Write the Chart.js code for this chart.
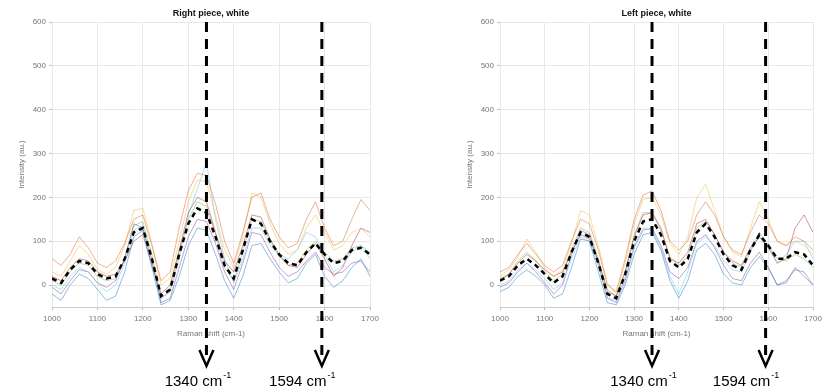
<!DOCTYPE html>
<html lang="en">
<head>
    <meta charset="UTF-8">
    <title>Raman spectra, white pieces</title>
    <script src="https://cdn.jsdelivr.net/npm/chart.js@4"></script>
    <style>
        body { margin: 0; background: #fff; }
        .panel { position: absolute; top: 0; width: 413px; height: 392px; }
    </style>
</head>
<body>
    <div class="panel" style="left:0"><canvas id="rightPiece" width="413" height="392"></canvas></div>
    <div class="panel" style="left:413px"><canvas id="leftPiece" width="413" height="392"></canvas></div>

    <script>
        // Raman shift axis (cm-1), one sample every 20 cm-1
        const shifts = [1000, 1020, 1040, 1060, 1080, 1100, 1120, 1140, 1160, 1180,
                        1200, 1220, 1240, 1260, 1280, 1300, 1320, 1340, 1360, 1380,
                        1400, 1420, 1440, 1460, 1480, 1500, 1520, 1540, 1560, 1580,
                        1600, 1620, 1640, 1660, 1680, 1700];

        const yTicks = [0, 100, 200, 300, 400, 500, 600];
        const xTicks = [1000, 1100, 1200, 1300, 1400, 1500, 1600, 1700];

        // marked bands
        const bands = [1340, 1594];

        // Right piece: individual spots
        const rightSpot1 = [60, 45, 70, 110, 85, 50, 40, 55, 95, 150, 160, 90, 10, 30, 130, 215, 255, 250, 185, 100, 50, 120, 200, 210, 150, 110, 85, 95, 150, 190, 130, 90, 100, 150, 195, 170];
        const rightSpot2 = [30, 20, 55, 90, 70, 35, 25, 40, 90, 170, 175, 95, 0, 15, 100, 190, 240, 235, 160, 80, 40, 110, 210, 200, 140, 95, 70, 80, 130, 160, 120, 80, 90, 120, 130, 110];
        const rightSpot3 = [-20, -35, 0, 25, 15, -10, -35, -25, 30, 110, 125, 40, -45, -35, 20, 90, 130, 125, 70, 10, -30, 20, 90, 95, 60, 30, 5, 15, 50, 70, 20, -5, 10, 40, 60, 20];
        const rightSpot4 = [0, -10, 20, 40, 30, 5, -15, 0, 50, 125, 135, 55, -30, -15, 60, 160, 220, 280, 150, 60, 5, 60, 130, 130, 90, 70, 60, 80, 120, 110, 70, 30, 45, 75, 90, 60];
        const rightSpot5 = [-5, -20, 10, 35, 30, 5, -5, 10, 60, 140, 130, 55, -40, -30, 40, 110, 150, 145, 95, 30, -10, 50, 120, 115, 75, 40, 20, 30, 55, 75, 40, 25, 30, 50, 55, 30];
        const rightSpot6 = [20, 10, 40, 60, 55, 30, 20, 25, 55, 100, 115, 45, -20, 0, 80, 165, 200, 190, 120, 55, 30, 90, 160, 155, 105, 70, 45, 40, 70, 95, 60, 20, 40, 90, 130, 120];
        const rightSpot7 = [10, 0, 30, 50, 45, 20, 10, 15, 60, 135, 145, 70, -30, -15, 75, 150, 190, 180, 115, 40, 10, 75, 150, 145, 100, 65, 45, 50, 80, 100, 75, 55, 60, 85, 90, 75];
        const rightMean  = [15, 5, 35, 55, 50, 25, 15, 20, 60, 120, 130, 60, -25, -10, 70, 140, 175, 165, 110, 45, 15, 80, 150, 140, 100, 70, 50, 45, 75, 95, 70, 50, 55, 80, 85, 70];

        // Left piece: individual spots
        const leftSpot1 = [30, 40, 70, 95, 70, 45, 30, 45, 100, 150, 140, 80, 0, -15, 60, 150, 205, 215, 170, 100, 80, 100, 160, 190, 160, 110, 80, 70, 120, 160, 140, 100, 90, 110, 100, 80];
        const leftSpot2 = [20, 35, 65, 105, 75, 40, 20, 35, 95, 170, 160, 90, 5, -20, 50, 140, 195, 200, 160, 95, 70, 110, 200, 230, 170, 110, 75, 65, 130, 190, 150, 100, 90, 100, 90, 70];
        const leftSpot3 = [-15, -5, 20, 35, 20, 0, -30, -20, 40, 105, 100, 30, -40, -45, 0, 70, 115, 120, 80, 10, -30, 10, 80, 95, 70, 25, 5, 0, 40, 65, 40, 0, 10, 35, 30, 0];
        const leftSpot4 = [0, 10, 35, 50, 35, 15, -10, 5, 60, 110, 100, 45, -30, -35, 20, 90, 130, 125, 85, 20, -20, 30, 95, 110, 90, 55, 35, 30, 75, 120, 90, 50, 70, 100, 100, 60];
        const leftSpot5 = [-5, 5, 30, 50, 30, 5, -20, 0, 70, 125, 115, 50, -30, -40, 10, 85, 125, 130, 90, 30, 15, 40, 100, 115, 85, 45, 15, 10, 50, 75, 40, 0, 5, 40, 20, 0];
        const leftSpot6 = [10, 25, 50, 70, 55, 35, 20, 30, 75, 115, 105, 55, -15, -25, 30, 110, 160, 165, 130, 60, 50, 75, 140, 150, 115, 75, 55, 45, 85, 110, 85, 50, 60, 130, 160, 120];
        const leftSpot7 = [15, 25, 55, 75, 55, 30, 10, 25, 80, 130, 120, 60, -10, -25, 30, 115, 165, 165, 125, 65, 45, 65, 130, 145, 115, 75, 50, 40, 80, 110, 90, 60, 55, 70, 60, 40];
        const leftMean  = [10, 20, 45, 60, 45, 25, 5, 20, 75, 120, 110, 50, -20, -30, 25, 100, 145, 150, 115, 55, 40, 60, 120, 140, 110, 70, 45, 35, 80, 115, 90, 60, 60, 75, 70, 45];

        const spotColors = ['#D95319', '#EDB120', '#0072BD', '#4DBEEE', '#7E2F8E', '#A2142F', '#77AC30'];

        function toPoints(values) {
            return values.map((v, i) => ({ x: shifts[i], y: v }));
        }

        function fade(hex, a) {
            const n = parseInt(hex.slice(1), 16);
            return `rgba(${n >> 16}, ${(n >> 8) & 255}, ${n & 255}, ${a})`;
        }

        // title above the plot and dashed arrows marking the bands
        const overlay = {
            id: 'overlay',
            afterDraw(chart) {
                const ctx = chart.ctx;
                const area = chart.chartArea;
                const xs = chart.scales.x;
                ctx.save();
                ctx.fillStyle = '#111';
                ctx.font = 'bold 9px "Liberation Sans", Arial, sans-serif';
                ctx.textAlign = 'center';
                ctx.textBaseline = 'middle';
                ctx.fillText(chart.options.plugins.panelTitle, (area.left + area.right) / 2, 14);

                const labelShift = [-9, -20];
                bands.forEach((b, i) => {
                    const x = xs.getPixelForValue(b);
                    ctx.strokeStyle = '#000';
                    ctx.lineWidth = 3;
                    ctx.setLineDash([10, 7]);
                    ctx.beginPath();
                    ctx.moveTo(x, area.top);
                    ctx.lineTo(x, 362);
                    ctx.stroke();
                    ctx.setLineDash([]);
                    ctx.lineWidth = 2.5;
                    ctx.beginPath();
                    ctx.moveTo(x - 7, 350);
                    ctx.lineTo(x, 366);
                    ctx.lineTo(x + 7, 350);
                    ctx.stroke();

                    // "1340 cm-1" with a raised -1
                    const main = b + ' cm';
                    ctx.font = '15px "Liberation Sans", Arial, sans-serif';
                    const wMain = ctx.measureText(main).width;
                    ctx.font = '9px "Liberation Sans", Arial, sans-serif';
                    const wSup = ctx.measureText('-1').width;
                    const left = x + labelShift[i] - (wMain + wSup) / 2;
                    ctx.fillStyle = '#000';
                    ctx.textAlign = 'left';
                    ctx.textBaseline = 'alphabetic';
                    ctx.font = '15px "Liberation Sans", Arial, sans-serif';
                    ctx.fillText(main, left, 386);
                    ctx.font = '9px "Liberation Sans", Arial, sans-serif';
                    ctx.fillText('-1', left + wMain + 1, 378);
                });
                ctx.restore();
            }
        };

        function makeChart(id, title, spots, mean, padLeft, padRight) {
            const tickFont = { family: '"Liberation Sans", Arial, sans-serif', size: 8 };
            const datasets = [{
                data: toPoints(mean),
                borderColor: '#000',
                borderWidth: 2.5,
                borderDash: [5, 4],
                pointRadius: 0
            }];
            spots.forEach((s, i) => {
                datasets.push({
                    data: toPoints(s),
                    borderColor: fade(spotColors[i], 0.45),
                    borderWidth: 1,
                    pointRadius: 0
                });
            });

            return new Chart(document.getElementById(id), {
                type: 'line',
                data: { datasets },
                plugins: [overlay],
                options: {
                    responsive: false,
                    animation: false,
                    layout: { padding: { top: 22, left: padLeft, right: padRight, bottom: 49 } },
                    plugins: {
                        legend: { display: false },
                        tooltip: { enabled: false },
                        panelTitle: title
                    },
                    scales: {
                        x: {
                            type: 'linear',
                            min: 1000,
                            max: 1700,
                            afterBuildTicks: s => { s.ticks = xTicks.map(v => ({ value: v })); },
                            afterFit: s => { s.height = 36; },
                            ticks: { font: tickFont, color: '#777', padding: 4, maxRotation: 0, callback: v => String(v) },
                            grid: { color: '#e8e8e8', tickLength: 3, tickColor: '#bbb' },
                            border: { color: '#ccc' },
                            title: {
                                display: true,
                                text: 'Raman shift (cm-1)',
                                font: tickFont,
                                color: '#777',
                                padding: { top: 2, bottom: 4 }
                            }
                        },
                        y: {
                            min: -50,
                            max: 600,
                            afterBuildTicks: s => { s.ticks = yTicks.map(v => ({ value: v })); },
                            afterFit: s => { s.width = 52; },
                            ticks: { font: tickFont, color: '#777', padding: 3, callback: v => String(v) },
                            grid: { color: '#e8e8e8', tickLength: 3, tickColor: '#bbb' },
                            border: { display: false },
                            title: {
                                display: true,
                                text: 'Intensity (au.)',
                                font: tickFont,
                                color: '#777',
                                padding: { top: 17, bottom: 2 }
                            }
                        }
                    }
                }
            });
        }

        makeChart('rightPiece', 'Right piece, white',
            [rightSpot1, rightSpot2, rightSpot3, rightSpot4, rightSpot5, rightSpot6, rightSpot7],
            rightMean, 0, 43);
        makeChart('leftPiece', 'Left piece, white',
            [leftSpot1, leftSpot2, leftSpot3, leftSpot4, leftSpot5, leftSpot6, leftSpot7],
            leftMean, 35, 13);
    </script>
</body>
</html>
